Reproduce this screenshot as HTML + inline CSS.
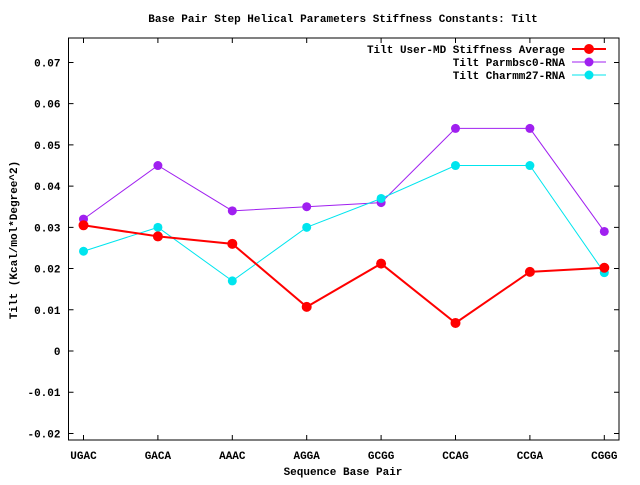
<!DOCTYPE html>
<html><head><meta charset="utf-8"><style>
html,body{margin:0;padding:0;background:#fff;}
svg text{font-family:"Liberation Mono",monospace;font-weight:bold;font-size:11px;fill:#000;}
</style></head><body>
<svg width="640" height="480" viewBox="0 0 640 480">
<text x="343" y="22" text-anchor="middle">Base Pair Step Helical Parameters Stiffness Constants: Tilt</text>
<text x="343" y="475" text-anchor="middle">Sequence Base Pair</text>
<text transform="translate(17,240) rotate(-90)" text-anchor="middle">Tilt (Kcal/mol*Degree^2)</text>
<g id="axes"></g>
<g id="series"></g>
<g id="legend"></g>
</svg>
<script>
const categories=["UGAC","GACA","AAAC","AGGA","GCGG","CCAG","CCGA","CGGG"];
const userMD=[0.0305,0.0278,0.0260,0.0107,0.0212,0.0068,0.0192,0.0202];
const parmbsc0=[0.032,0.045,0.034,0.035,0.036,0.054,0.054,0.029];
const charmm27=[0.0242,0.030,0.017,0.030,0.037,0.045,0.045,0.019];
const yTicks=[-0.02,-0.01,0,0.01,0.02,0.03,0.04,0.05,0.06,0.07];
const yTickLabels=["-0.02","-0.01","0","0.01","0.02","0.03","0.04","0.05","0.06","0.07"];

const NS="http://www.w3.org/2000/svg";
const L=68.5,R=619,T=38,B=440;
const xs=i=>83.5+i*74.4;
const ys=v=>351-v*4122;
function mk(tag,attrs,parent){const e=document.createElementNS(NS,tag);for(const k in attrs)e.setAttribute(k,attrs[k]);parent.appendChild(e);return e;}
const ax=document.getElementById('axes');
const frame=mk('rect',{x:L,y:T,width:R-L,height:B-T,fill:'none',stroke:'#000','stroke-width':1},ax);


yTicks.forEach((v,i)=>{
  const y=ys(v);
  const t=mk('path',{d:`M${L},${y}h5M${R},${y}h-5`,stroke:'#000'},ax);
  
  
  const tx=mk('text',{x:L-8,y:y+4,'text-anchor':'end'},ax);
  tx.textContent=yTickLabels[i];
  
  
});
categories.forEach((c,i)=>{
  const x=xs(i);
  const t=mk('path',{d:`M${x},${B}v-5M${x},${T}v5`,stroke:'#000'},ax);
  
  
  const tx=mk('text',{x:x,y:B+19,'text-anchor':'middle'},ax);
  tx.textContent=c;
  
  
});
const sg=document.getElementById('series');
function drawSeries(vals,color,w,r,name){
  const g=mk('g',{},sg);
  
  
  const pl=mk('polyline',{points:vals.map((v,i)=>xs(i)+','+ys(v)).join(' '),fill:'none',stroke:color,'stroke-width':w},g);
  
  
  vals.forEach((v,i)=>{
    const c=mk('circle',{cx:xs(i),cy:ys(v),r:r,fill:color},g);
    
    
  });
}
drawSeries(parmbsc0,'#a020f0',1,4.5,'parmbsc0-series');
drawSeries(charmm27,'#00e5ee',1,4.5,'charmm27-series');
drawSeries(userMD,'#ff0000',2,5,'user-md-series');
const lg=document.getElementById('legend');
const entries=[["Tilt User-MD Stiffness Average",'#ff0000',2,5],["Tilt Parmbsc0-RNA",'#a020f0',1,4.5],["Tilt Charmm27-RNA",'#00e5ee',1,4.5]];
entries.forEach((e,i)=>{
  const y=49+i*13;
  const g=mk('g',{},lg);
  
  
  const tx=mk('text',{x:565,y:y+4,'text-anchor':'end'},g);
  tx.textContent=e[0];
  mk('line',{x1:572,y1:y,x2:606,y2:y,stroke:e[1],'stroke-width':e[2]},g);
  mk('circle',{cx:589,cy:y,r:e[3],fill:e[1]},g);
});
</script>
</body></html>
